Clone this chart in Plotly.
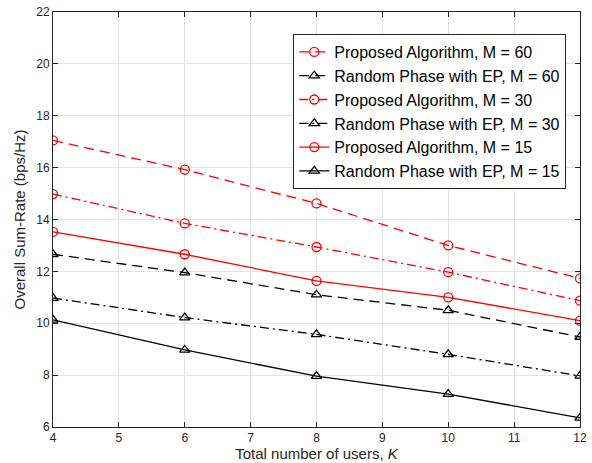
import plotly.graph_objects as go

K = [4, 6, 8, 10, 12]
prop_60 = [17.05, 15.92, 14.62, 13.00, 11.73]
rand_60 = [12.66, 11.95, 11.10, 10.50, 9.47]
prop_30 = [14.98, 13.85, 12.94, 11.97, 10.87]
rand_30 = [10.97, 10.22, 9.57, 8.80, 7.97]
prop_15 = [13.52, 12.66, 11.63, 11.00, 10.10]
rand_15 = [10.13, 8.97, 7.96, 7.27, 6.35]

x_ticks = list(range(4, 13))
y_ticks = list(range(6, 23, 2))

series = [
    ("Proposed Algorithm, M = 60", prop_60, "red", "circle-open", "10px,6px"),
    ("Random Phase with EP, M = 60", rand_60, "black", "triangle-up-open", "10px,6px"),
    ("Proposed Algorithm, M = 30", prop_30, "red", "circle-open", "9px,4px,2px,4px"),
    ("Random Phase with EP, M = 30", rand_30, "black", "triangle-up-open", "9px,4px,2px,4px"),
    ("Proposed Algorithm, M = 15", prop_15, "red", "circle-open", "solid"),
    ("Random Phase with EP, M = 15", rand_15, "black", "triangle-up-open", "solid"),
]

fig = go.Figure()
for name, vals, color, sym, dash in series:
    fig.add_trace(go.Scatter(
        x=K, y=vals, name=name, mode="lines+markers",
        line=dict(color=color, width=1.3, dash=dash),
        marker=dict(symbol=sym, size=9, color=color, line=dict(width=1.3, color=color)),
    ))

axis_common = dict(
    showline=True, linecolor="#262626", linewidth=1, mirror="ticks",
    ticks="inside", ticklen=5, tickcolor="#262626",
    showgrid=True, gridcolor="#e3e3e3", gridwidth=1, zeroline=False,
    ticklabeloverflow="allow",
    tickfont=dict(family="Liberation Sans, Arial, sans-serif", size=12, color="#262626"),
)

fig.update_layout(
    width=592, height=463,
    margin=dict(l=53, r=5, t=8, b=36),
    paper_bgcolor="white", plot_bgcolor="white",
    font=dict(family="Liberation Sans, Arial, sans-serif", color="#262626"),
    showlegend=True,
    legend=dict(
        x=0.974, y=0.947, xanchor="right", yanchor="top",
        bgcolor="white", bordercolor="#262626", borderwidth=1,
        font=dict(size=16, color="#000000"),
        tracegroupgap=0, itemwidth=30,
    ),
    xaxis=dict(
        range=[4, 12], tickvals=x_ticks, ticktext=[str(v) for v in x_ticks],
        title=dict(text="Total number of users, <i>K</i>", font=dict(size=15, color="#262626"), standoff=2),
        **axis_common,
    ),
    yaxis=dict(
        range=[6, 22], tickvals=y_ticks, ticktext=[str(v) for v in y_ticks],
        title=dict(text="Overall Sum-Rate (bps/Hz)", font=dict(size=15, color="#262626"), standoff=6),
        **axis_common,
    ),
)

fig.write_html("out.html")
